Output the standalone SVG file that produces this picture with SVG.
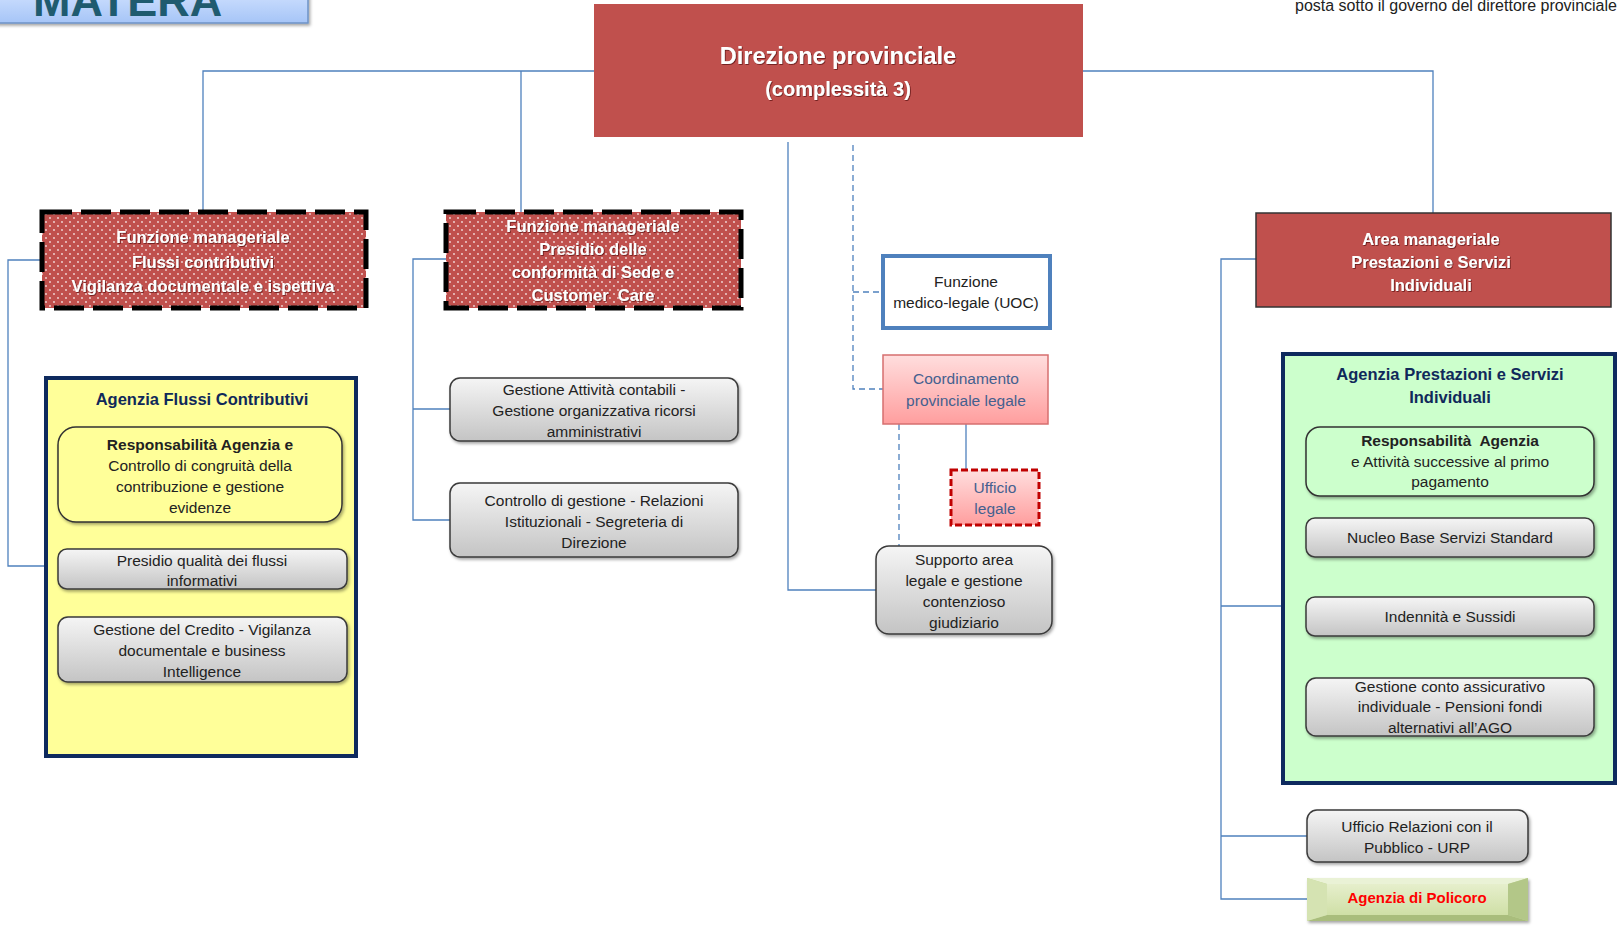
<svg xmlns="http://www.w3.org/2000/svg" width="1617" height="926" viewBox="0 0 1617 926">
<defs>
<style>
.t{font-family:"Liberation Sans",Arial,sans-serif;font-size:15.5px;fill:#222;text-anchor:middle}
.b{font-weight:bold}
.w{fill:#fff;font-weight:bold;font-size:16.5px}
.nv{fill:#10295a;font-weight:bold;font-size:16.5px}
.pk{fill:#45608f}
.gray{fill:url(#gGray);stroke:#3a3a3a;stroke-width:1.5;filter:url(#sh)}
.con{fill:none;stroke:#4f81bd;stroke-width:1.3}
.dash{stroke-dasharray:6 4}
.red{fill:#c0504d}
.mdash{fill:none;stroke:#000;stroke-width:5;stroke-dasharray:30 9}
</style>
<linearGradient id="gGray" x1="0" y1="0" x2="0" y2="1"><stop offset="0" stop-color="#f5f5f5"/><stop offset="1" stop-color="#c4c4c4"/></linearGradient>
<linearGradient id="gPink" x1="0" y1="0" x2="0" y2="1"><stop offset="0" stop-color="#ffdede"/><stop offset="1" stop-color="#ff9e9e"/></linearGradient>
<linearGradient id="gBlue" x1="0" y1="0" x2="0" y2="1"><stop offset="0" stop-color="#d3e3ff"/><stop offset="1" stop-color="#a6c5f7"/></linearGradient>
<linearGradient id="gOlive" x1="0" y1="0" x2="0" y2="1"><stop offset="0" stop-color="#e6efcc"/><stop offset="1" stop-color="#cfdfa6"/></linearGradient>
<pattern id="dots" width="8" height="8" patternUnits="userSpaceOnUse">
<rect width="8" height="8" fill="#c0504d"/>
<circle cx="2" cy="2" r="0.9" fill="#f4dcdc"/>
<circle cx="6" cy="6" r="0.9" fill="#f4dcdc"/>
</pattern>
<filter id="sh" x="-10%" y="-10%" width="120%" height="130%"><feDropShadow dx="1.5" dy="2" stdDeviation="1.5" flood-color="#000" flood-opacity="0.35"/></filter>
<filter id="tsh" x="-5%" y="-20%" width="110%" height="140%"><feDropShadow dx="0.8" dy="0.8" stdDeviation="0.6" flood-color="#5a1010" flood-opacity="0.9"/></filter>
</defs>

<g id="header">
<rect x="-6" y="-12" width="314" height="35" fill="url(#gBlue)" stroke="#6d92c6" stroke-width="1.5" filter="url(#sh)"/>
<text x="33" y="16" style="font-family:'Liberation Sans',Arial,sans-serif;font-weight:bold;font-size:45px;fill:#1f5b6f">MATERA</text>
<text x="1295" y="11" style="font-family:'Liberation Sans',Arial,sans-serif;font-size:16px;fill:#222">posta sotto il governo del direttore provinciale</text>
</g>

<g id="connectors">
<path class="con" d="M203,212 V71 H594 M521,71 V212"/>
<path class="con" d="M1083,71 H1433 V213"/>
<path class="con" d="M788,142 V590 H876"/>
<path class="con dash" d="M853,145 V389 H883 M853,292 H883"/>
<path class="con dash" d="M899,424 V546"/>
<path class="con" d="M966,424 V470"/>
<path class="con" d="M42,260 H8 V566 H45"/>
<path class="con" d="M446,259 H413 V520 H450 M413,409 H450"/>
<path class="con" d="M1256,259 H1221 V899 H1307 M1221,606 H1282 M1221,836 H1307"/>
</g>

<g id="direzione">
<rect x="594" y="4" width="489" height="133" class="red"/>
<text class="t w" x="838" y="64" style="font-size:23.5px" filter="url(#tsh)">Direzione provinciale</text>
<text class="t w" x="838" y="96" style="font-size:20px" filter="url(#tsh)">(complessità 3)</text>
</g>

<g id="fm-flussi">
<rect x="42" y="212" width="324" height="96" fill="url(#dots)"/>
<rect x="42" y="212" width="324" height="96" class="mdash"/>
<g filter="url(#tsh)">
<text class="t w" x="203" y="243">Funzione manageriale</text>
<text class="t w" x="203" y="268">Flussi contributivi</text>
<text class="t w" x="203" y="292">Vigilanza documentale e ispettiva</text>
</g>
</g>

<g id="fm-presidio">
<rect x="446" y="212" width="295" height="96" fill="url(#dots)"/>
<rect x="446" y="212" width="295" height="96" class="mdash"/>
<g filter="url(#tsh)">
<text class="t w" x="593" y="232">Funzione manageriale</text>
<text class="t w" x="593" y="255">Presidio delle</text>
<text class="t w" x="593" y="278">conformità di Sede e</text>
<text class="t w" x="593" y="301" xml:space="preserve">Customer  Care</text>
</g>
</g>

<g id="agenzia-flussi">
<rect x="46" y="378" width="310" height="378" fill="#ffff99" stroke="#0e2a5e" stroke-width="4"/>
<text class="t nv" x="202" y="405">Agenzia Flussi Contributivi</text>
</g>
<g id="resp-flussi">
<rect x="58" y="427" width="284" height="95" rx="18" fill="#ffff99" stroke="#333" stroke-width="1.5" filter="url(#sh)"/>
<text class="t b" x="200" y="450">Responsabilità Agenzia e</text>
<text class="t" x="200" y="471">Controllo di congruità della</text>
<text class="t" x="200" y="492">contribuzione e gestione</text>
<text class="t" x="200" y="513">evidenze</text>
</g>
<g id="presidio-qualita">
<rect x="58" y="549" width="289" height="40" rx="9" class="gray"/>
<text class="t" x="202" y="566">Presidio qualità dei flussi</text>
<text class="t" x="202" y="586">informativi</text>
</g>
<g id="gestione-credito">
<rect x="58" y="617" width="289" height="65" rx="10" class="gray"/>
<text class="t" x="202" y="635">Gestione del Credito - Vigilanza</text>
<text class="t" x="202" y="656">documentale e business</text>
<text class="t" x="202" y="677">Intelligence</text>
</g>

<g id="gestione-contabili">
<rect x="450" y="378" width="288" height="63" rx="10" class="gray"/>
<text class="t" x="594" y="395">Gestione Attività contabili -</text>
<text class="t" x="594" y="416">Gestione organizzativa ricorsi</text>
<text class="t" x="594" y="437">amministrativi</text>
</g>
<g id="controllo-gestione">
<rect x="450" y="483" width="288" height="74" rx="10" class="gray"/>
<text class="t" x="594" y="506">Controllo di gestione - Relazioni</text>
<text class="t" x="594" y="527">Istituzionali - Segreteria di</text>
<text class="t" x="594" y="548">Direzione</text>
</g>

<g id="medico-legale">
<rect x="883" y="256" width="167" height="72" fill="#fff" stroke="#4f81bd" stroke-width="4"/>
<text class="t" x="966" y="287">Funzione</text>
<text class="t" x="966" y="308">medico-legale (UOC)</text>
</g>
<g id="coord-legale">
<rect x="883" y="355" width="165" height="69" fill="url(#gPink)" stroke="#d66f6f" stroke-width="1.5"/>
<text class="t pk" x="966" y="384">Coordinamento</text>
<text class="t pk" x="966" y="406">provinciale legale</text>
</g>
<g id="ufficio-legale">
<rect x="951" y="470" width="88" height="55" fill="url(#gPink)" stroke="#c00000" stroke-width="3" stroke-dasharray="7 3"/>
<text class="t pk" x="995" y="493">Ufficio</text>
<text class="t pk" x="995" y="514">legale</text>
</g>
<g id="supporto-legale">
<rect x="876" y="546" width="176" height="88" rx="13" class="gray"/>
<text class="t" x="964" y="565">Supporto area</text>
<text class="t" x="964" y="586">legale e gestione</text>
<text class="t" x="964" y="607">contenzioso</text>
<text class="t" x="964" y="628">giudiziario</text>
</g>

<g id="am-prestazioni">
<rect x="1256" y="213" width="355" height="94" class="red" stroke="#333" stroke-width="1.5"/>
<g filter="url(#tsh)">
<text class="t w" x="1431" y="245">Area manageriale</text>
<text class="t w" x="1431" y="268">Prestazioni e Servizi</text>
<text class="t w" x="1431" y="291">Individuali</text>
</g>
</g>

<g id="agenzia-prestazioni">
<rect x="1283" y="354" width="332" height="429" fill="#ccffcc" stroke="#0e2a5e" stroke-width="4"/>
<text class="t nv" x="1450" y="380">Agenzia Prestazioni e Servizi</text>
<text class="t nv" x="1450" y="403">Individuali</text>
</g>
<g id="resp-prestazioni">
<rect x="1306" y="427" width="288" height="69" rx="14" fill="#ccffcc" stroke="#333" stroke-width="1.5" filter="url(#sh)"/>
<text class="t b" x="1450" y="446" xml:space="preserve">Responsabilità  Agenzia</text>
<text class="t" x="1450" y="467">e Attività successive al primo</text>
<text class="t" x="1450" y="487">pagamento</text>
</g>
<g id="nucleo-base">
<rect x="1306" y="518" width="288" height="39" rx="9" class="gray"/>
<text class="t" x="1450" y="543">Nucleo Base Servizi Standard</text>
</g>
<g id="indennita">
<rect x="1306" y="597" width="288" height="39" rx="9" class="gray"/>
<text class="t" x="1450" y="622">Indennità e Sussidi</text>
</g>
<g id="conto-assicurativo">
<rect x="1306" y="678" width="288" height="58" rx="10" class="gray"/>
<text class="t" x="1450" y="692">Gestione conto assicurativo</text>
<text class="t" x="1450" y="712">individuale - Pensioni fondi</text>
<text class="t" x="1450" y="733">alternativi all’AGO</text>
</g>

<g id="urp">
<rect x="1307" y="810" width="221" height="52" rx="10" class="gray"/>
<text class="t" x="1417" y="832">Ufficio Relazioni con il</text>
<text class="t" x="1417" y="853">Pubblico - URP</text>
</g>
<g id="policoro">
<g filter="url(#sh)">
<rect x="1307" y="878" width="221" height="43" fill="#c3d69b"/>
<polygon points="1307,878 1528,878 1508,884 1327,884" fill="#eaf2d6"/>
<polygon points="1307,921 1528,921 1508,915 1327,915" fill="#a9bd7c"/>
<polygon points="1307,878 1327,884 1327,915 1307,921" fill="#d5e3b2"/>
<polygon points="1528,878 1508,884 1508,915 1528,921" fill="#b3c788"/>
<rect x="1327" y="884" width="181" height="31" fill="url(#gOlive)"/>
</g>
<text class="t b" x="1417" y="903" style="font-size:15px;fill:#ff0000">Agenzia di Policoro</text>
</g>
</svg>
